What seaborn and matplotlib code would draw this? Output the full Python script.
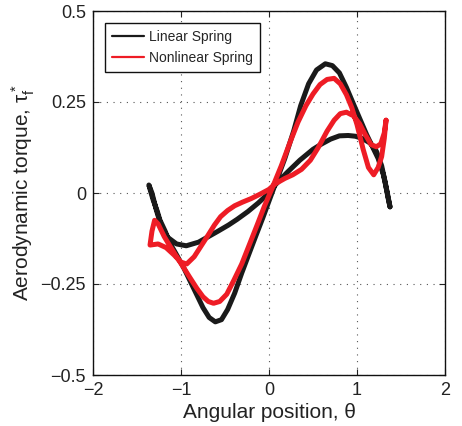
import numpy as np
import pandas as pd
import matplotlib
matplotlib.use("Agg")
import matplotlib.pyplot as plt
from matplotlib.lines import Line2D
import seaborn as sns

# ---- data (closed limit-cycle loops) ----
lin_theta = [1.375, 1.35, 1.32, 1.28, 1.22, 1.15, 1.06, 0.98, 0.90, 0.80, 0.70,
             0.60, 0.50, 0.35, 0.20, 0.07, 0.00, -0.12, -0.24, -0.36, -0.46,
             -0.58, -0.69, -0.80, -0.94, -1.05, -1.15, -1.22, -1.28, -1.33, -1.365,
             -1.34, -1.315, -1.27, -1.24, -1.18, -1.125, -1.05, -0.97, -0.90,
             -0.82, -0.75, -0.68, -0.61, -0.54, -0.47, -0.39, -0.31, -0.235,
             -0.15, -0.07, 0.00, 0.08, 0.18, 0.28, 0.36, 0.45, 0.54, 0.64,
             0.72, 0.80, 0.88, 0.95, 1.03, 1.11, 1.18, 1.24, 1.30, 1.345, 1.375]
lin_torque = [-0.038, -0.010, 0.030, 0.075, 0.115, 0.137, 0.150, 0.156, 0.158,
              0.157, 0.148, 0.135, 0.120, 0.090, 0.055, 0.022, 0.000, -0.027,
              -0.051, -0.072, -0.088, -0.105, -0.120, -0.135, -0.145, -0.140,
              -0.122, -0.095, -0.047, 0.000, 0.022,
              0.000, -0.020, -0.050, -0.074, -0.105, -0.138, -0.170, -0.205,
              -0.240, -0.280, -0.315, -0.342, -0.354, -0.348, -0.320, -0.275,
              -0.220, -0.172, -0.118, -0.068, -0.022, 0.030, 0.095, 0.170,
              0.240, 0.300, 0.338, 0.355, 0.350, 0.330, 0.290, 0.250, 0.205,
              0.160, 0.125, 0.095, 0.050, 0.000, -0.038]

nonlin_theta = [1.33, 1.31, 1.27, 1.22, 1.16, 1.09, 1.03, 0.96, 0.88, 0.81, 0.74,
                0.66, 0.56, 0.47, 0.37, 0.27, 0.18, 0.07, 0.00, -0.10, -0.20,
                -0.30, -0.39, -0.47, -0.55, -0.62, -0.69, -0.77, -0.85, -0.935,
                -1.00, -1.08, -1.17, -1.26, -1.352, -1.33, -1.30, -1.26, -1.19,
                -1.12, -1.05, -0.97, -0.90, -0.82, -0.75, -0.69, -0.63, -0.56,
                -0.48, -0.40, -0.31, -0.22, -0.13, -0.05, 0.03, 0.14, 0.24, 0.33,
                0.42, 0.50, 0.58, 0.66, 0.74, 0.81, 0.88, 0.94, 1.00, 1.07, 1.13,
                1.19, 1.24, 1.28, 1.31, 1.33]
nonlin_torque = [0.200, 0.165, 0.135, 0.127, 0.133, 0.162, 0.190, 0.212, 0.222,
                 0.218, 0.200, 0.170, 0.125, 0.090, 0.065, 0.050, 0.040, 0.025,
                 0.010, -0.003, -0.015, -0.025, -0.035, -0.048, -0.065, -0.088,
                 -0.115, -0.145, -0.175, -0.195, -0.190, -0.170, -0.150, -0.140,
                 -0.143, -0.105, -0.075, -0.085, -0.120, -0.148, -0.175, -0.205,
                 -0.232, -0.262, -0.285, -0.298, -0.303, -0.298, -0.278, -0.240,
                 -0.195, -0.140, -0.085, -0.035, 0.010, 0.075, 0.140, 0.195,
                 0.240, 0.272, 0.298, 0.312, 0.315, 0.300, 0.270, 0.235, 0.188,
                 0.120, 0.070, 0.050, 0.070, 0.100, 0.150, 0.200]

series_names = ["Linear Spring", "Nonlinear Spring"]
series_colors = ["#1a1a1a", "#ee1c25"]

x_ticks = [-2, -1, 0, 1, 2]
x_ticklabels = ["\u22122", "\u22121", "0", "1", "2"]
y_ticks = [-0.5, -0.25, 0, 0.25, 0.5]
y_ticklabels = ["\u22120.5", "\u22120.25", "0", "0.25", "0.5"]

df = pd.concat([
    pd.DataFrame({"theta": lin_theta, "torque": lin_torque, "spring": series_names[0],
                  "step": range(len(lin_theta))}),
    pd.DataFrame({"theta": nonlin_theta, "torque": nonlin_torque, "spring": series_names[1],
                  "step": range(len(nonlin_theta))}),
], ignore_index=True)

sns.set_style("ticks")
plt.rcParams["font.family"] = ["Liberation Sans", "DejaVu Sans"]
plt.rcParams["mathtext.fontset"] = "custom"
plt.rcParams["mathtext.rm"] = "Liberation Sans"
plt.rcParams["mathtext.it"] = "Liberation Sans:italic"

fig = plt.figure(figsize=(4.62, 4.26), dpi=100)
ax = fig.add_axes([93 / 462, 1 - 375 / 426, (445 - 93) / 462, (375 - 11) / 426])

sns.lineplot(data=df, x="theta", y="torque", hue="spring", sort=False, estimator=None,
             palette=dict(zip(series_names, series_colors)), linewidth=3.6,
             ax=ax, legend=False)
for ln in ax.get_lines():
    ln.set_solid_joinstyle("round")
    ln.set_solid_capstyle("round")

ax.set_xlim(-2, 2)
ax.set_ylim(-0.5, 0.5)
ax.set_xticks(x_ticks)
ax.set_xticklabels(x_ticklabels)
ax.set_yticks(y_ticks)
ax.set_yticklabels(y_ticklabels)
ax.tick_params(direction="in", length=4, width=0.8, top=True, right=True,
               labelsize=13, colors="#222222", pad=5)
ax.grid(True, color="#555555", linestyle=(0, (1, 5)), linewidth=0.8)
for s in ax.spines.values():
    s.set_linewidth(1.0)
    s.set_color("#111111")

ax.set_xlabel("Angular position, \u03b8", fontsize=15, color="#222222", labelpad=3)
ax.set_ylabel("Aerodynamic torque, $\\mathrm{\\tau_f^*}$", fontsize=15, color="#222222")
ax.yaxis.set_label_coords(-0.158, 0.5)

handles = [Line2D([0], [0], color=c, lw=1.6) for c in series_colors]
leg = ax.legend(handles, series_names, loc="upper left", bbox_to_anchor=(0.034, 0.966),
                fontsize=10, frameon=True, fancybox=False, framealpha=1,
                edgecolor="#111111", handlelength=2.3, handletextpad=0.4,
                borderpad=0.5, labelspacing=0.5, borderaxespad=0)
leg.get_frame().set_linewidth(1.0)

fig.savefig("out.png", dpi=100)
